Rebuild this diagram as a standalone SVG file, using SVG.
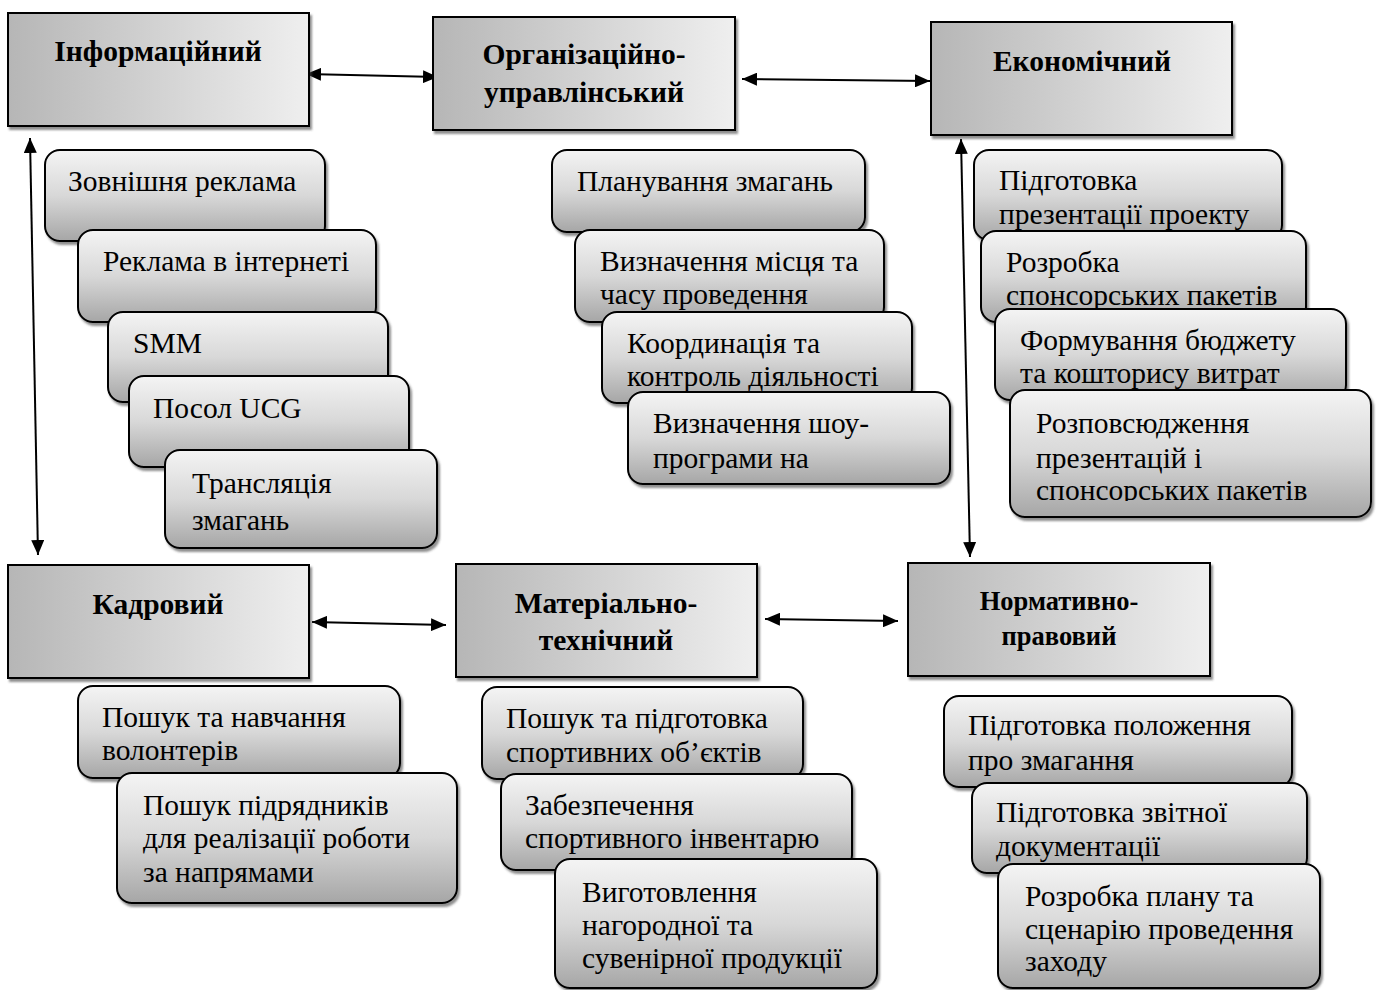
<svg xmlns="http://www.w3.org/2000/svg" width="1379" height="990" viewBox="0 0 1379 990">
<defs>
<linearGradient id="hg" x1="0" y1="0" x2="1" y2="0">
<stop offset="0" stop-color="#b6b6b6"/>
<stop offset="1" stop-color="#efefef"/>
</linearGradient>
<linearGradient id="sg" x1="0" y1="0" x2="0" y2="1">
<stop offset="0" stop-color="#f4f4f4"/>
<stop offset="0.5" stop-color="#d8d8d8"/>
<stop offset="1" stop-color="#a6a6a6"/>
</linearGradient>
<filter id="sh" x="-5%" y="-5%" width="115%" height="120%">
<feDropShadow dx="2" dy="3" stdDeviation="1" flood-color="#444" flood-opacity="0.6"/>
</filter>
<marker id="ah" viewBox="0 0 15 13" refX="15" refY="6.5" markerWidth="15" markerHeight="13" markerUnits="userSpaceOnUse" orient="auto-start-reverse">
<path d="M0,0 L15,6.5 L0,13 Z" fill="#000"/>
</marker>
<clipPath id="c1"><rect x="1010" y="390" width="361" height="111"/></clipPath>
</defs>
<style>
.h{fill:url(#hg);stroke:#000;stroke-width:2;filter:url(#sh)}
.s{fill:url(#sg);stroke:#000;stroke-width:2;filter:url(#sh)}
.ht{font-family:"Liberation Serif",serif;font-weight:bold;font-size:29.5px;fill:#000;text-anchor:middle}
.hs{font-size:26.5px}
.t{font-family:"Liberation Serif",serif;font-size:29.5px;fill:#000}
.c{stroke:#000;stroke-width:2;fill:none;marker-start:url(#ah);marker-end:url(#ah)}
</style>
<rect width="1379" height="990" fill="#fff"/>

<g id="connectors">
<line class="c" x1="306" y1="74" x2="438" y2="77"/>
<line class="c" x1="742" y1="79" x2="930" y2="81"/>
<line class="c" x1="30" y1="138" x2="38" y2="555"/>
<line class="c" x1="961" y1="139" x2="970" y2="557"/>
<line class="c" x1="312" y1="622" x2="446" y2="625"/>
<line class="c" x1="765" y1="619" x2="898" y2="621"/>
</g>

<g id="n-info">
<rect class="h" x="8" y="13" width="301" height="113"/>
<text class="ht" x="158" y="61">Інформаційний</text>
</g>
<g id="n-org">
<rect class="h" x="433" y="17" width="302" height="113"/>
<text class="ht" x="584" y="64">Організаційно-</text>
<text class="ht" x="584" y="102">управлінський</text>
</g>
<g id="n-econ">
<rect class="h" x="931" y="22" width="301" height="113"/>
<text class="ht" x="1082" y="71">Економічний</text>
</g>
<g id="n-kadr">
<rect class="h" x="8" y="565" width="301" height="113"/>
<text class="ht" x="158" y="614">Кадровий</text>
</g>
<g id="n-mat">
<rect class="h" x="456" y="564" width="301" height="113"/>
<text class="ht" x="606" y="613">Матеріально-</text>
<text class="ht" x="606" y="650">технічний</text>
</g>
<g id="n-norm">
<rect class="h" x="908" y="563" width="302" height="113"/>
<text class="ht hs" x="1059" y="610">Нормативно-</text>
<text class="ht hs" x="1059" y="645">правовий</text>
</g>

<g id="i1"><rect class="s" x="45" y="150" width="280" height="91" rx="15"/><text class="t" x="68" y="191">Зовнішня реклама</text></g>
<g id="i2"><rect class="s" x="78" y="230" width="298" height="92" rx="15"/><text class="t" x="103" y="271">Реклама в інтернеті</text></g>
<g id="i3"><rect class="s" x="108" y="312" width="280" height="90" rx="15"/><text class="t" x="133" y="353">SMM</text></g>
<g id="i4"><rect class="s" x="129" y="376" width="280" height="91" rx="15"/><text class="t" x="153" y="418">Посол UCG</text></g>
<g id="i5"><rect class="s" x="165" y="450" width="272" height="98" rx="15"/><text class="t" x="192" y="493">Трансляція</text><text class="t" x="192" y="530">змагань</text></g>

<g id="o1"><rect class="s" x="552" y="150" width="313" height="82" rx="15"/><text class="t" x="577" y="191">Планування змагань</text></g>
<g id="o2"><rect class="s" x="575" y="230" width="309" height="92" rx="15"/><text class="t" x="600" y="271">Визначення місця та</text><text class="t" x="600" y="304">часу проведення</text></g>
<g id="o3"><rect class="s" x="602" y="312" width="310" height="91" rx="15"/><text class="t" x="627" y="353">Координація та</text><text class="t" x="627" y="386">контроль діяльності</text></g>
<g id="o4"><rect class="s" x="628" y="392" width="322" height="92" rx="15"/><text class="t" x="653" y="433">Визначення шоу-</text><text class="t" x="653" y="468">програми на</text></g>

<g id="e1"><rect class="s" x="974" y="150" width="308" height="90" rx="15"/><text class="t" x="999" y="190">Підготовка</text><text class="t" x="999" y="224">презентації проекту</text></g>
<g id="e2"><rect class="s" x="981" y="231" width="325" height="91" rx="15"/><text class="t" x="1006" y="272">Розробка</text><text class="t" x="1006" y="305">спонсорських пакетів</text></g>
<g id="e3"><rect class="s" x="995" y="309" width="351" height="91" rx="15"/><text class="t" x="1020" y="350">Формування бюджету</text><text class="t" x="1020" y="383">та кошторису витрат</text></g>
<g id="e4"><rect class="s" x="1010" y="390" width="361" height="127" rx="15"/><g clip-path="url(#c1)"><text class="t" x="1036" y="433">Розповсюдження</text><text class="t" x="1036" y="468">презентацій і</text><text class="t" x="1036" y="500">спонсорських пакетів</text></g></g>

<g id="k1"><rect class="s" x="78" y="686" width="322" height="92" rx="15"/><text class="t" x="102" y="727">Пошук та навчання</text><text class="t" x="102" y="760">волонтерів</text></g>
<g id="k2"><rect class="s" x="117" y="773" width="340" height="130" rx="15"/><text class="t" x="143" y="815">Пошук підрядників</text><text class="t" x="143" y="848">для реалізації роботи</text><text class="t" x="143" y="882">за напрямами</text></g>

<g id="m1"><rect class="s" x="482" y="687" width="321" height="92" rx="15"/><text class="t" x="506" y="728">Пошук та підготовка</text><text class="t" x="506" y="762">спортивних об’єктів</text></g>
<g id="m2"><rect class="s" x="501" y="774" width="351" height="96" rx="15"/><text class="t" x="525" y="815">Забезпечення</text><text class="t" x="525" y="848">спортивного інвентарю</text></g>
<g id="m3"><rect class="s" x="555" y="859" width="322" height="129" rx="15"/><text class="t" x="582" y="902">Виготовлення</text><text class="t" x="582" y="935">нагородної та</text><text class="t" x="582" y="968">сувенірної продукції</text></g>

<g id="r1"><rect class="s" x="944" y="696" width="348" height="91" rx="15"/><text class="t" x="968" y="735">Підготовка положення</text><text class="t" x="968" y="770">про змагання</text></g>
<g id="r2"><rect class="s" x="972" y="783" width="335" height="90" rx="15"/><text class="t" x="996" y="822">Підготовка звітної</text><text class="t" x="996" y="856">документації</text></g>
<g id="r3"><rect class="s" x="998" y="864" width="322" height="124" rx="15"/><text class="t" x="1025" y="906">Розробка плану та</text><text class="t" x="1025" y="939">сценарію проведення</text><text class="t" x="1025" y="971">заходу</text></g>
</svg>
